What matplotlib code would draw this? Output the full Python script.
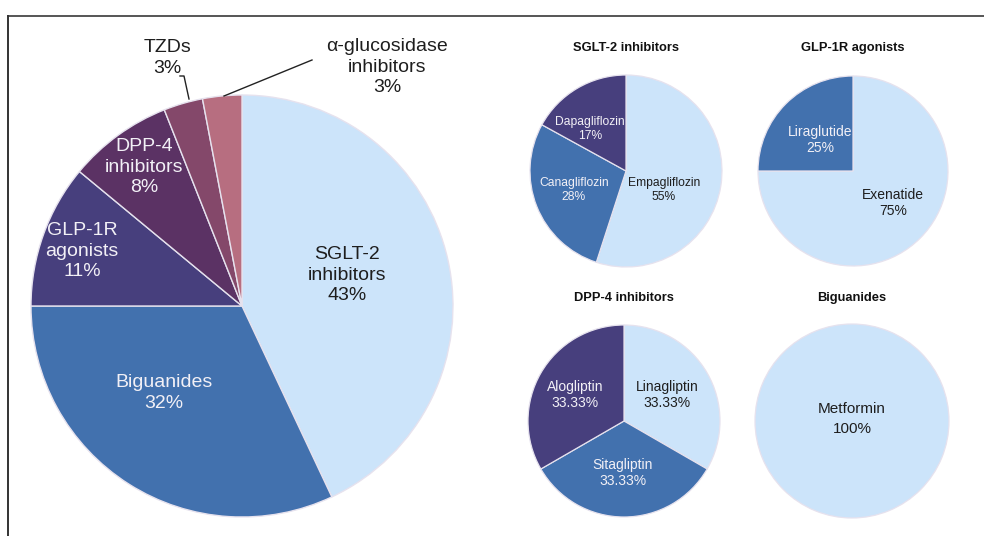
import matplotlib
matplotlib.use("Agg")
import matplotlib.pyplot as plt
from matplotlib.lines import Line2D

plt.rcParams['font.family'] = ['Liberation Sans', 'DejaVu Sans']

# ---------------- data ----------------
main_labels = ["SGLT-2\ninhibitors", "Biguanides", "GLP-1R\nagonists",
               "DPP-4\ninhibitors", "TZDs", "α-glucosidase\ninhibitors"]
main_values = [43, 32, 11, 8, 3, 3]

sglt2_labels = ["Empagliflozin", "Canagliflozin", "Dapagliflozin"]
sglt2_values = [55, 28, 17]

glp1_labels = ["Exenatide", "Liraglutide"]
glp1_values = [75, 25]

dpp4_labels = ["Linagliptin", "Sitagliptin", "Alogliptin"]
dpp4_values = [33.33, 33.33, 33.33]

bigu_labels = ["Metformin"]
bigu_values = [100]

# ---------------- style ----------------
W, H = 984, 536
LIGHT = "#CCE4FA"
MID = "#4271AE"
INDIGO = "#473F7D"
PURPLE = "#5B3264"
MAUVE = "#84486A"
PINK = "#B76E80"
DARKTXT = "#1E1E1E"
LIGHTTXT = "#F2F0F6"
EDGE = "#E6E2EE"

fig = plt.figure(figsize=(W / 100, H / 100), dpi=100)
fig.patch.set_facecolor("white")

# partial frame
fig.add_artist(Line2D([8 / W, 1.0], [1 - 16 / H, 1 - 16 / H], color="#555555", lw=1.4))
fig.add_artist(Line2D([8 / W, 8 / W], [0, 1 - 16 / H], color="#333333", lw=1.4))


def pie_axes(cx, cy, r):
    ax = fig.add_axes([(cx - r) / W, (H - cy - r) / H, 2 * r / W, 2 * r / H])
    ax.axis("off")
    return ax


def fix_limits(ax):
    ax.set_xlim(-1, 1)
    ax.set_ylim(-1, 1)
    ax.set_aspect("equal")
    ax.axis("off")


def to_data(px, py, cx, cy, r):
    return (px - cx) / r, (cy - py) / r


def fmt_pct(v):
    return f"{v:g}%"


# ---------------- main pie ----------------
mcx, mcy, mr = 242, 306, 211
axm = pie_axes(mcx, mcy, mr)
axm.pie(main_values, colors=[LIGHT, MID, INDIGO, PURPLE, MAUVE, PINK],
        startangle=90, counterclock=False, radius=1,
        wedgeprops=dict(edgecolor=EDGE, linewidth=1.0))
fix_limits(axm)
main_pos = [(347, 275), (164, 393), (82, 251), (144, 167), (167, 58), (387, 67)]
main_tc = [DARKTXT, LIGHTTXT, LIGHTTXT, LIGHTTXT, DARKTXT, DARKTXT]
for lab, v, (px, py), tc in zip(main_labels, main_values, main_pos, main_tc):
    x, y = to_data(px, py, mcx, mcy, mr)
    axm.text(x, y, f"{lab}\n{fmt_pct(v)}", ha="center", va="center",
             fontsize=14, color=tc, linespacing=1.3, clip_on=False)

# leader lines
lx, ly = zip(*[to_data(p[0], p[1], mcx, mcy, mr) for p in [(180, 76), (184, 76), (189, 99)]])
axm.plot(lx, ly, color="#222222", lw=1.0, clip_on=False)
lx, ly = zip(*[to_data(p[0], p[1], mcx, mcy, mr) for p in [(312, 60), (224, 96)]])
axm.plot(lx, ly, color="#222222", lw=1.0, clip_on=False)


# ---------------- small pies ----------------
def small(cx, cy, r, values, colors, labels, pos, tcs, title, ty, fs, ls):
    ax = pie_axes(cx, cy, r)
    ax.pie(values, colors=colors, startangle=90, counterclock=False, radius=1,
           wedgeprops=dict(edgecolor=EDGE, linewidth=0.9))
    fix_limits(ax)
    for lab, v, (px, py), tc in zip(labels, values, pos, tcs):
        x, y = to_data(px, py, cx, cy, r)
        ax.text(x, y, f"{lab}\n{fmt_pct(v)}", ha="center", va="center",
                fontsize=fs, color=tc, linespacing=ls)
    x, y = to_data(cx, ty, cx, cy, r)
    ax.text(x, y, title, ha="center", va="center", fontsize=9.3,
            fontweight="bold", color="#111111", clip_on=False)


small(626, 171, 96, sglt2_values, [LIGHT, MID, INDIGO], sglt2_labels,
      [(664, 190), (574, 190), (590, 129)], [DARKTXT, LIGHTTXT, LIGHTTXT],
      "SGLT-2 inhibitors", 48, 8.7, 1.25)

small(853, 171, 95, glp1_values, [LIGHT, MID], glp1_labels,
      [(893, 203), (820, 140)], [DARKTXT, LIGHTTXT],
      "GLP-1R agonists", 48, 10, 1.25)

small(624, 421, 96, dpp4_values, [LIGHT, MID, INDIGO], dpp4_labels,
      [(667, 395), (623, 473), (575, 395)], [DARKTXT, LIGHTTXT, LIGHTTXT],
      "DPP-4 inhibitors", 298, 10, 1.2)

small(852, 421, 97, bigu_values, [LIGHT], bigu_labels,
      [(852, 419)], [DARKTXT],
      "Biguanides", 298, 11, 1.5)

fig.savefig("out.png", dpi=100, facecolor="white")
